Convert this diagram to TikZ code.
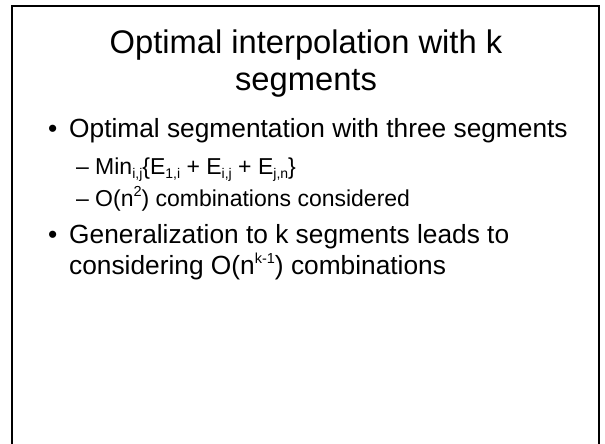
\documentclass[tikz,border=0pt]{standalone}
\usepackage{fontspec}
\setmainfont{Liberation Sans}
\usetikzlibrary{positioning}
\tikzset{
  slidetitle/.style={anchor=base,font=\fontsize{32.7}{39}\selectfont,inner sep=0pt},
  bullettext/.style={anchor=base west,font=\fontsize{26.3}{32}\selectfont,inner sep=0pt},
  subtext/.style={anchor=base west,font=\fontsize{23}{28}\selectfont,inner sep=0pt},
  slideframe/.style={line width=2.4pt},
}
\newcommand{\idx}[1]{\raisebox{-0.4ex}{\fontsize{14}{14}\selectfont #1}}
\newcommand{\pow}[1]{\raisebox{0.75ex}{\fontsize{14.5}{14.5}\selectfont #1}}

\begin{document}
\begin{tikzpicture}[x=1pt,y=-1pt]
			\useasboundingbox (0,0) rectangle (605,444);
			% slide border, open at the bottom
			\draw[slideframe] (12,444) -- (12,6) -- (599,6) -- (599,444);
			\node[slidetitle] (t1) at (306,54) {Optimal interpolation with k};
			\node[slidetitle] (t2) at (306,91) {segments};
			% first bullet and its two sub points
			\node[bullettext] (d1) at (48,137) {\textbullet};
			\node[bullettext] (b1) at (69,137) {Optimal segmentation with three segments};
			\node[subtext] (s1) at (76,174) {--};
			\node[subtext] (m1) at (95,174) {Min\idx{i,j}\{E\idx{1,i} + E\idx{i,j} + E\idx{j,n}\}};
			\node[subtext] (s2) at (76,206) {--};
			\node[subtext] (m2) at (95,206) {O(n\pow{2}) combinations considered};
			% second bullet
			\node[bullettext] (d2) at (48,243) {\textbullet};
			\node[bullettext] (b2) at (69,243) {Generalization to k segments leads to};
			\node[bullettext] (b3) at (69,274) {considering O(n\pow{k-1}) combinations};
		\end{tikzpicture}
\end{document}
